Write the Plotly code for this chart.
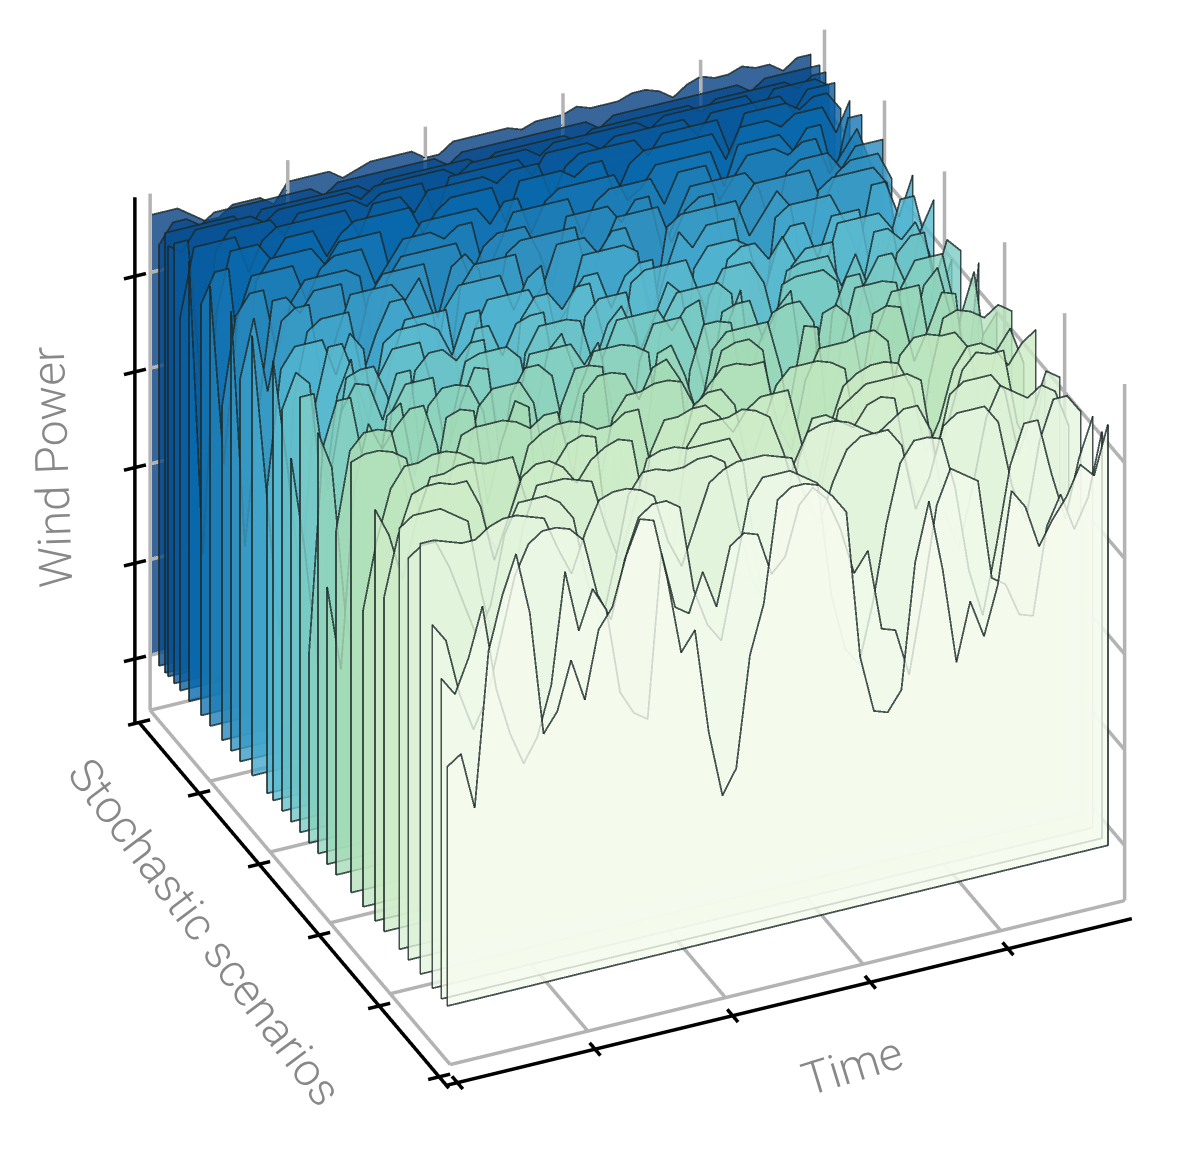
import plotly.graph_objects as go
from plotly.colors import sample_colorscale

TIME = list(range(0, 97, 2))
SCENARIO_Y = [1,3,6,10,14,17,22,25,29,33,38,41,44,47,50,53,56,59,61,66,70,73,76,80,83,87,90,92,94,95,97,100]
X_TICKS = [0, 20, 40, 60, 80]
Y_TICKS = [0, 20, 40, 60, 80, 100]
Z_TICKS = [0, 20, 40, 60, 80]
X_TITLE = "Time"
Y_TITLE = "Stochastic scenarios"
Z_TITLE = "Wind Power"

S01 = [50,52,40,72,83,91,78,52,56,66,57,71,75,85,92,91,78,62,66,44,30,35,58,68,89,91,91,90,87,83,52,40,39,43,69,81,66,46,58,50,60,79,75,66,71,75,81,78,88]
S02 = [67,63,70,80,62,52,45,50,60,83,70,78,73,55,50,48,82,70,68,76,68,80,82,81,72,75,85,88,85,78,68,72,55,54,44,60,78,85,83,81,60,58,51,50,68,74,66,72,85]
S03 = [76,72,60,52,58,70,82,88,90,90,89,86,74,68,80,88,90,90,88,70,62,58,72,86,90,90,90,88,86,62,50,46,58,74,86,90,90,89,78,60,50,64,80,88,88,76,66,78,86]
S04 = [90,90,89,88,88,90,91,91,90,89,82,76,84,90,91,91,90,88,78,72,80,88,90,91,91,91,90,89,80,74,82,88,90,90,90,86,72,78,88,90,90,90,86,72,64,80,88,88,84]
S05 = [84,86,86,80,72,64,70,84,90,90,90,88,84,70,60,72,86,90,90,89,89,90,90,88,74,62,56,68,84,90,91,91,90,88,86,88,90,90,84,66,58,70,84,90,88,86,88,86,78]
S06 = [88,90,90,90,88,86,70,58,66,82,90,90,90,89,88,78,70,80,90,91,91,90,90,90,90,84,62,48,60,82,90,90,88,86,90,91,90,74,64,76,88,90,90,90,86,72,80,88,86]
S07 = [70,82,90,91,91,90,90,84,72,80,88,90,90,88,84,88,90,91,90,74,54,66,86,90,90,90,91,90,88,80,70,60,74,86,88,90,90,90,90,88,70,78,88,91,90,90,74,68,82]
S08 = [86,80,70,82,90,90,91,91,90,90,90,80,76,86,90,91,90,66,50,64,84,90,90,91,91,88,84,88,90,90,90,78,66,80,88,90,91,91,90,84,70,76,86,90,90,88,84,88,90]
S09 = [62,76,86,90,90,91,91,90,88,72,66,78,88,90,91,91,90,88,88,90,90,76,60,78,88,90,90,86,72,80,88,91,91,91,90,88,70,60,76,88,91,91,90,90,86,72,84,88,80]
S10 = [90,91,91,90,88,76,68,80,90,91,91,91,90,88,90,90,78,62,72,86,90,90,91,91,90,84,88,91,91,90,90,76,70,84,90,90,90,91,91,88,68,58,78,90,91,90,88,90,88]
S11 = [72,88,91,91,90,78,60,74,90,91,90,70,82,90,88,54,40,66,88,91,91,90,84,90,91,86,62,80,90,91,91,88,70,76,91,90,58,44,72,90,91,90,78,84,91,90,66,80,84]
S12 = [58,40,78,90,84,88,91,91,82,62,76,88,91,91,91,86,70,84,91,91,90,66,48,70,90,91,84,74,88,91,91,91,91,80,60,74,90,91,88,72,84,91,91,91,74,56,82,91,70]
S13 = [88,80,48,34,70,88,90,74,88,91,91,90,84,66,86,91,91,88,74,84,91,91,91,90,88,64,50,82,91,91,90,72,84,90,91,91,86,60,80,91,91,91,90,76,88,91,80,62,90]
S14 = [40,82,91,91,76,60,86,91,91,91,74,84,91,90,68,80,91,91,91,91,86,90,76,60,84,91,91,91,84,72,90,91,91,82,88,91,70,54,84,91,91,80,68,86,91,91,91,78,66]
S15 = [91,91,70,86,91,90,82,91,91,66,46,78,90,91,91,91,88,74,88,91,82,62,84,91,91,91,91,86,90,91,76,84,91,66,74,90,91,91,91,88,72,86,91,91,84,60,82,91,88]
S16 = [76,56,30,72,90,91,91,84,70,88,91,91,88,91,91,72,60,86,91,91,91,90,80,88,91,84,68,86,91,91,91,91,88,60,48,78,90,91,91,91,84,90,82,70,88,91,91,76,84]
S17 = [84,91,88,62,84,91,74,86,91,91,91,80,62,82,91,91,84,90,91,91,74,66,88,91,91,91,78,84,91,88,70,86,91,91,91,86,74,88,91,91,91,66,78,91,91,88,91,84,70]
S18 = [92,70,44,80,92,92,84,74,90,92,92,92,90,84,92,92,70,60,88,92,92,88,92,92,80,70,90,92,92,92,92,84,76,90,92,92,88,92,86,66,82,92,92,92,92,88,72,86,92]
S19 = [64,88,92,92,92,84,92,88,66,84,92,92,92,92,76,86,92,92,92,92,86,72,88,92,92,84,90,92,92,70,60,88,92,92,92,90,78,88,92,92,84,92,92,92,76,82,92,92,80]
S20 = [92,60,28,76,90,92,92,92,78,86,92,92,86,70,88,92,92,92,92,84,90,92,78,82,92,92,92,92,90,74,84,92,88,92,92,92,78,66,90,92,92,92,92,86,78,92,92,84,92]
S21 = [80,92,76,90,92,92,74,84,92,92,92,92,88,92,84,66,88,92,92,92,92,80,84,92,92,92,88,92,92,84,72,90,92,92,92,92,92,84,88,92,88,72,90,92,92,92,92,88,72]
S22 = [92,42,70,92,92,88,92,92,92,76,88,92,92,92,92,80,90,92,88,74,90,92,92,92,92,92,80,86,92,92,92,92,84,90,92,92,76,88,92,92,92,92,92,84,90,92,92,92,86]
S23 = [70,88,92,92,78,88,92,92,92,92,90,74,88,92,92,92,92,92,84,90,92,92,92,86,78,92,92,92,92,88,92,92,80,86,92,92,92,92,92,88,78,90,92,92,92,88,92,92,92]
S24 = [92,54,84,92,92,92,92,84,90,92,92,92,84,88,92,92,92,90,92,92,80,86,92,92,92,92,92,84,90,92,92,92,92,86,92,92,92,84,88,92,92,92,90,92,92,84,88,92,84]
S25 = [86,92,92,66,88,92,92,92,92,88,92,92,92,92,80,88,92,92,92,92,92,88,92,92,84,90,92,92,92,92,92,86,88,92,92,92,92,92,84,92,92,92,92,88,92,92,80,92,92]
S26 = [92,30,80,92,92,92,88,92,92,92,86,90,92,92,92,92,92,86,90,92,92,92,92,84,92,92,92,92,90,92,92,84,90,92,92,92,92,92,92,86,92,92,92,90,92,92,92,86,92]
S27 = [78,92,92,92,92,84,90,92,92,92,92,92,92,86,92,92,92,88,92,92,92,92,92,90,92,92,92,84,90,92,92,92,92,92,88,92,92,92,92,92,84,92,92,92,92,90,92,92,88]
S28 = [92,92,60,88,92,92,92,92,88,92,92,92,92,92,90,92,92,92,92,84,92,92,92,92,92,92,88,92,92,92,92,90,92,92,92,92,92,92,88,92,92,92,92,92,92,88,92,92,92]
S29 = [90,88,92,92,92,92,92,90,92,92,92,92,92,92,90,92,92,92,92,92,92,90,92,92,92,92,92,90,92,92,92,92,92,92,92,90,92,92,92,92,92,92,92,88,92,92,92,92,90]
S30 = [92,92,92,92,92,92,88,92,92,92,92,92,92,92,92,90,92,92,92,92,92,92,92,90,92,92,92,92,92,92,90,92,92,92,92,92,92,92,92,90,92,92,92,92,92,92,90,92,92]
S31 = [88,92,92,90,92,92,92,92,92,92,92,92,90,92,92,92,92,92,92,92,92,90,92,92,92,92,92,92,92,92,92,92,90,92,92,92,92,92,92,92,92,92,92,90,92,92,92,92,92]
S32 = [92,92,92,90,88,88,90,90,90,88,92,92,92,92,90,91,92,92,92,92,90,90,92,92,92,92,92,91,92,92,92,93,92,92,92,93,93,92,90,92,93,92,92,93,92,92,90,92,92]
SERIES = [S01,S02,S03,S04,S05,S06,S07,S08,S09,S10,S11,S12,S13,S14,S15,S16,S17,S18,S19,S20,S21,S22,S23,S24,S25,S26,S27,S28,S29,S30,S31,S32]

X_RANGE = (0, 98)
Y_RANGE = (0, 100)
Z_RANGE = (-11.5, 96.5)
GRAY = "#b3b3b3"
EDGE = "#1c2a2a"
FONT = "Roboto"


def segs(pairs):
    xs, ys, zs = [], [], []
    for a, b in pairs:
        xs += [a[0], b[0], None]
        ys += [a[1], b[1], None]
        zs += [a[2], b[2], None]
    return xs, ys, zs


x0, x1 = X_RANGE
y0, y1 = Y_RANGE
z0, z1 = Z_RANGE
grid = []
for t in X_TICKS:
    grid.append(((t, y0, z0), (t, y1, z0)))
    grid.append(((t, y1, z0), (t, y1, z1)))
for t in Y_TICKS:
    grid.append(((x0, t, z0), (x1, t, z0)))
    grid.append(((x1, t, z0), (x1, t, z1)))
for t in Z_TICKS:
    grid.append(((x0, y1, t), (x1, y1, t)))
    grid.append(((x1, y0, t), (x1, y1, t)))
grid += [((x0, y0, z0), (x1, y0, z0)), ((x0, y0, z0), (x0, y1, z0)),
         ((x0, y1, z0), (x0, y1, z1)), ((x1, y0, z0), (x1, y0, z1)), ((x1, y1, z0), (x1, y1, z1))]

xa_y, ya_x, za_x = y0 - 2.4, x0 - 1.6, x0 - 2.2
ya_z = z0 - 2.0
axes = [((x0 - 1.8, xa_y, ya_z), (x1, xa_y, ya_z)),
        ((ya_x, y0 - 3.2, ya_z), (ya_x, y1, ya_z)),
        ((za_x, y1, ya_z), (za_x, y1, z1))]
for t in X_TICKS:
    axes.append(((t, xa_y + 1.8, ya_z), (t, xa_y - 1.8, ya_z)))
for t in Y_TICKS:
    axes.append(((ya_x - 1.6, t, ya_z), (ya_x + 1.6, t, ya_z)))
for t in Z_TICKS:
    axes.append(((za_x - 1.6, y1, t), (za_x + 1.6, y1, t)))

fig = go.Figure()
gx, gy, gz = segs(grid)
fig.add_trace(go.Scatter3d(x=gx, y=gy, z=gz, mode="lines", line=dict(color=GRAY, width=7), hoverinfo="skip"))
ax, ay, az = segs(axes)
fig.add_trace(go.Scatter3d(x=ax, y=ay, z=az, mode="lines", line=dict(color="#000000", width=7), hoverinfo="skip"))

n = len(TIME)
order = sorted(range(len(SERIES)), key=lambda k: -SCENARIO_Y[k])
for k in order:
    y = SCENARIO_Y[k]
    vals = SERIES[k]
    col = sample_colorscale("GnBu", y / 100)[0]
    mx = TIME + TIME
    my = [y] * (2 * n)
    mz = vals + [0] * n
    ii, jj, kk = [], [], []
    for a in range(n - 1):
        ii += [a, a + 1]
        jj += [a + 1, n + a + 1]
        kk += [n + a, n + a]
    fig.add_trace(go.Mesh3d(x=mx, y=my, z=mz, i=ii, j=jj, k=kk, color=col, opacity=0.8, flatshading=True,
                            lighting=dict(ambient=1, diffuse=0, specular=0, fresnel=0), hoverinfo="skip"))
    lx = [TIME[0]] + TIME + [TIME[-1], TIME[0]]
    lz = [0] + vals + [0, 0]
    fig.add_trace(go.Scatter3d(x=lx, y=[y] * len(lx), z=lz, mode="lines", opacity=0.8,
                               line=dict(color=EDGE, width=3.6), hoverinfo="skip"))

axis = dict(showgrid=False, zeroline=False, showline=False, showticklabels=False, ticks="", showbackground=False,
            showspikes=False, title=dict(text=""))
D = 3.0
cen = dict(x=-0.0711, y=-0.0008, z=-0.0481)
eye = dict(x=cen["x"] - 0.349 * D, y=cen["y"] - 0.769 * D, z=cen["z"] + 0.536 * D)
pad = 6
fig.update_layout(
    width=1200, height=1160, margin=dict(l=0, r=0, t=0, b=0), paper_bgcolor="white", showlegend=False,
    scene=dict(
        domain=dict(x=[0, 1], y=[0, 1]),
        xaxis=dict(axis, range=[x0 - pad, x1 + pad]),
        yaxis=dict(axis, range=[y0 - pad, y1 + pad]),
        zaxis=dict(axis, range=[z0 - pad, z1 + pad]),
        aspectmode="manual",
        aspectratio=dict(x=1.277 * (x1 - x0 + 2 * pad) / (x1 - x0), y=1.252 * (y1 - y0 + 2 * pad) / (y1 - y0),
                         z=1.055 * (z1 - z0 + 2 * pad) / (z1 - z0)),
        camera=dict(eye=eye, center=cen, up=dict(x=0, y=0, z=1), projection=dict(type="orthographic")),
    ),
    annotations=[
        dict(text=Z_TITLE, x=52 / 1200, y=1 - 468 / 1160, xref="paper", yref="paper", showarrow=False, textangle=-92,
             xanchor="center", yanchor="middle", font=dict(family=FONT, size=46, color="#888888", weight=300)),
        dict(text=Y_TITLE, x=205 / 1200, y=1 - 932 / 1160, xref="paper", yref="paper", showarrow=False, textangle=53,
             xanchor="center", yanchor="middle", font=dict(family=FONT, size=46, color="#888888", weight=300)),
        dict(text=X_TITLE, x=852 / 1200, y=1 - 1066 / 1160, xref="paper", yref="paper", showarrow=False, textangle=-17,
             xanchor="center", yanchor="middle", font=dict(family=FONT, size=46, color="#888888", weight=300)),
    ],
)
fig.write_html("out.html", config=dict(displayModeBar=False),
               post_script="document.body.style.margin='0';document.body.style.overflow='hidden';")
